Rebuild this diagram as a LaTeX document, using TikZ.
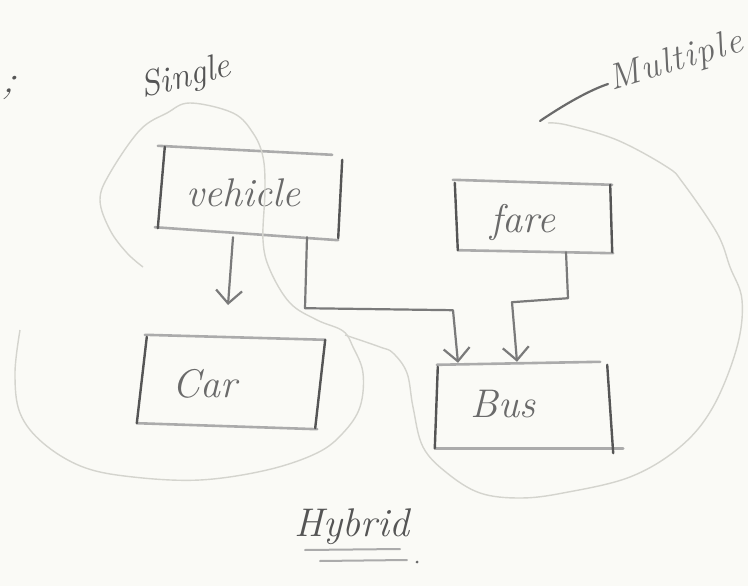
\documentclass[tikz,border=0pt]{standalone}
\usetikzlibrary{arrows.meta,calc}
\definecolor{paper}{HTML}{FAFAF6}
\definecolor{sidedark}{HTML}{555555}
\definecolor{sidelight}{HTML}{ABABAB}
\definecolor{conngray}{HTML}{7A7A7A}
\definecolor{inkgray}{HTML}{6A6A6A}
\definecolor{blobgray}{HTML}{D4D4CE}
\newcommand{\spaced}[1]{\def\sep{\kern1.8pt}#1}
\begin{document}
\begin{tikzpicture}[x=1pt,y=-1pt,
  boxnode/.style={rectangle,inner sep=0pt,draw=none},
  hand/.style={font=\fontsize{40}{44}\selectfont\itshape,text=inkgray,inner sep=0pt},
  vside/.style={draw=sidedark,line width=2.4pt,line cap=round},
  hside/.style={draw=sidelight,line width=2.6pt,line cap=round},
  conn/.style={draw=conngray,line width=2.2pt,line cap=round,line join=round,
    -{Straight Barb[length=13pt,width=26pt,line width=2.2pt]}},
  blob/.style={draw=blobgray,line width=1.4pt},
  pointer/.style={draw=inkgray,line width=2.2pt,line cap=round}]
\useasboundingbox (0,0) rectangle (748,586);
\fill[paper] (0,0) rectangle (748,586);

% class boxes
\node[boxnode,minimum width=182pt,minimum height=86pt] (v) at (249,193) {};
\node[boxnode,minimum width=156pt,minimum height=70pt] (f) at (534,217) {};
\node[boxnode,minimum width=186pt,minimum height=92pt] (c) at (231,382) {};
\node[boxnode,minimum width=176pt,minimum height=84pt] (b) at (525,406) {};

% hand-drawn sides: vehicle
\draw[hside] ($(v.north west)+(0,-4)$) -- ($(v.north east)+(-8,5)$);
\draw[hside] ($(v.south west)+(-3,-9)$) -- ($(v.south east)+(-2,4)$);
\draw[vside] ($(v.north west)+(7,-3)$) -- ($(v.south west)+(0,-8)$);
\draw[vside] ($(v.north east)+(2,10)$) -- ($(v.south east)+(-2,2)$);
% fare
\draw[hside] ($(f.north west)+(-3,-2)$) -- ($(f.north east)+(0,3)$);
\draw[hside] ($(f.south west)+(2,-2)$) -- ($(f.south east)+(1,1)$);
\draw[vside] ($(f.north west)+(-1,1)$) -- ($(f.south west)+(2,-2)$);
\draw[vside] ($(f.north east)+(-2,3)$) -- ($(f.south east)+(0,0)$);
% Car
\draw[hside] ($(c.north west)+(7,-1)$) -- ($(c.north east)+(1,4)$);
\draw[hside] ($(c.south west)+(-1,-5)$) -- ($(c.south east)+(-7,1)$);
\draw[vside] ($(c.north west)+(9,1)$) -- ($(c.south west)+(-1,-5)$);
\draw[vside] ($(c.north east)+(1,4)$) -- ($(c.south east)+(-9,0)$);
% Bus
\draw[hside] ($(b.north west)+(0,1)$) -- ($(b.north east)+(-13,-2)$);
\draw[hside] ($(b.south west)+(-2,0)$) -- ($(b.south east)+(10,0)$);
\draw[vside] ($(b.north west)+(1,3)$) -- ($(b.south west)+(-2,0)$);
\draw[vside] ($(b.north east)+(-6,1)$) -- ($(b.south east)+(0,5)$);

% class names
\node[hand] (vt) at (243,193) {vehicle};
\node[hand] (ft) at (523,222) {fare};
\node[hand] (ct) at (205,384) {Car};
\node[hand] (bt) at (503,404) {Bus};

% inheritance connectors
\coordinate (carin) at (228,305);
\draw[conn] ($(v.south)+(-16,1)$) -- (carin);
\draw[conn] ($(v.south)+(58,1)$) -- ++(-2,71) -- ++(148,2) -- ($(b.north)+(-67,-1)$);
\draw[conn] ($(f.south)+(32,0)$) -- ++(2,46) -- ++(-56,4) -- ($(b.north)+(-8,-2)$);

% region outlines
\draw[blob] plot[smooth,tension=0.6] coordinates {
  (143,267) (127,253) (110,230) (100,200) (110,173) (140,130) (167,113)
  (190,103) (233,113) (253,133) (263,157) (265,190) (263,240) (270,270)
  (290,303) (317,320) (343,331) (353,347) (363,373) (360,407) (343,433)
  (317,453) (267,470) (200,480) (133,477) (83,467) (43,443) (20,413)
  (15,373) (20,330)};
\draw[blob] plot[smooth,tension=0.6] coordinates {
  (345,335) (380,347) (393,353) (407,373) (413,407) (423,447) (447,473)
  (480,493) (520,498) (563,493) (630,477) (680,447) (713,407) (737,347)
  (742,300) (730,267) (717,233) (683,183) (667,167) (617,140) (567,125)
  (548,123)};

% region names
\node[hand,font=\fontsize{36}{40}\selectfont\itshape,text=sidedark,rotate=14] (single) at (186,78) {Single};
\draw[pointer] (540,121) .. controls (565,104) and (590,90) .. (608,84);
\node[hand,font=\fontsize{36}{40}\selectfont\itshape,rotate=17] (multiple) at (676,62)
  {\spaced{M\sep u\sep l\sep t\sep i\sep p\sep l\sep e}};
\node[hand,text=sidedark] (hybrid) at (352,527) {Hybrid};
\draw[draw=sidelight,line width=2pt,line cap=round] (305,550) -- (400,549);
\draw[draw=sidelight,line width=2pt,line cap=round] (320,561) -- (407,560);
\fill[inkgray] (417,562) circle (1.5pt);
\node[hand,text=sidedark,rotate=-10] (semi) at (9,88) {;};
\end{tikzpicture}
\end{document}
